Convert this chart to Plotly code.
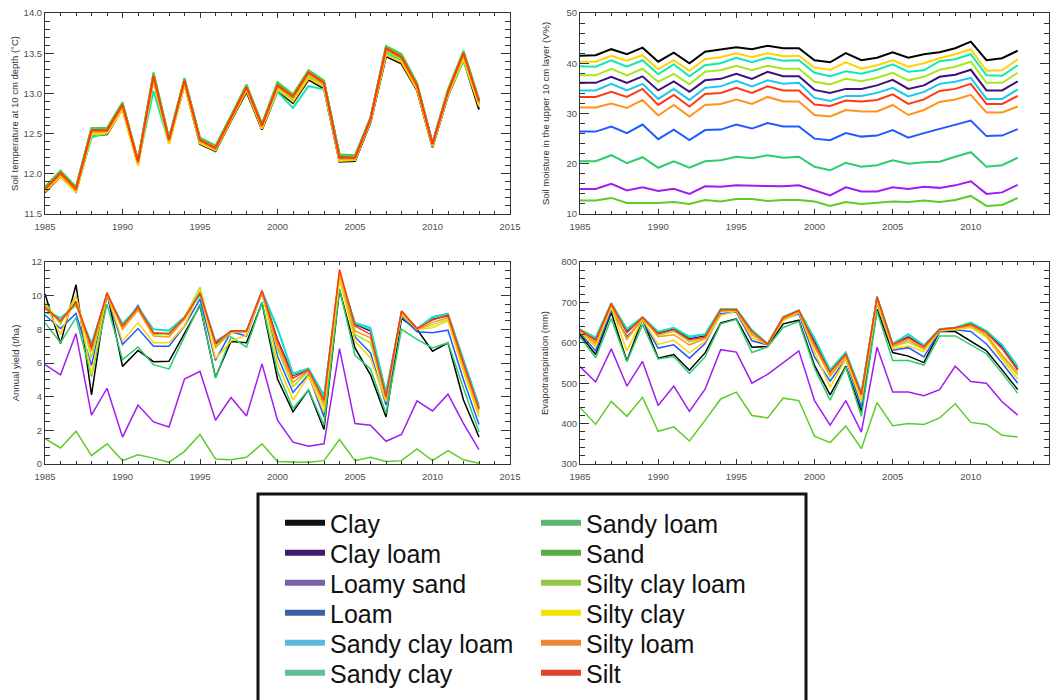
import plotly.graph_objects as go

years = list(range(1985, 2014))

soils = ["Clay", "Clay loam", "Loamy sand", "Loam", "Sandy clay loam", "Sandy clay",
         "Sandy loam", "Sand", "Silty clay loam", "Silty clay", "Silty loam", "Silt"]

# line colours used inside the panels
line_colors = ["#000000", "#3d1078", "#a21cf0", "#1f5cff", "#18c8f0", "#10e8b0",
               "#2ccc6a", "#5ccc28", "#a8e61e", "#ffd200", "#ff9419", "#ff3a10"]

# swatch colours used in the legend box
legend_colors = ["#111111", "#3f1d6b", "#7e5ea8", "#3c5fa6", "#5bb9df", "#62bf95",
                 "#5db66f", "#5aab40", "#94c84a", "#f5e000", "#ea8838", "#e0422b"]

# ---- soil temperature at 10 cm depth (deg C) ----
temp_clay = [11.77, 11.97, 11.78, 12.48, 12.49, 12.81, 12.12, 13.17, 12.39, 13.11, 12.37, 12.28, 12.66, 13.02, 12.55,
             13.03, 12.88, 13.17, 13.06, 12.15, 12.16, 12.64, 13.46, 13.37, 13.04, 12.33, 12.97, 13.42, 12.80]
temp_clay_loam = [11.80, 12.00, 11.80, 12.53, 12.53, 12.85, 12.15, 13.21, 12.41, 13.15, 12.41, 12.31, 12.70, 13.07, 12.59,
                  13.09, 12.95, 13.25, 13.12, 12.22, 12.21, 12.68, 13.54, 13.44, 13.09, 12.36, 13.01, 13.49, 12.89]
temp_loamy_sand = [11.82, 12.02, 11.82, 12.55, 12.55, 12.87, 12.16, 13.23, 12.43, 13.17, 12.43, 12.33, 12.71, 13.09, 12.61,
                   13.11, 12.97, 13.27, 13.14, 12.23, 12.21, 12.69, 13.57, 13.46, 13.11, 12.38, 13.03, 13.51, 12.91]
temp_loam = [11.81, 12.01, 11.81, 12.56, 12.55, 12.86, 12.15, 13.22, 12.42, 13.16, 12.42, 12.32, 12.70, 13.08, 12.60,
             13.10, 12.96, 13.26, 13.13, 12.21, 12.20, 12.68, 13.55, 13.46, 13.10, 12.37, 13.02, 13.50, 12.90]
temp_sandy_clay_loam = [11.79, 11.99, 11.79, 12.48, 12.52, 12.84, 12.14, 13.19, 12.40, 13.14, 12.40, 12.30, 12.69, 13.06, 12.58,
                        13.07, 12.92, 13.21, 13.10, 12.18, 12.19, 12.67, 13.52, 13.42, 13.08, 12.35, 13.00, 13.46, 12.87]
temp_sandy_clay = [11.79, 11.99, 11.79, 12.45, 12.51, 12.82, 12.13, 13.03, 12.38, 13.12, 12.39, 12.30, 12.68, 13.05, 12.58,
                   13.02, 12.82, 13.09, 13.05, 12.17, 12.18, 12.66, 13.50, 13.41, 13.07, 12.35, 12.99, 13.40, 12.86]
temp_sandy_loam = [11.84, 12.04, 11.84, 12.57, 12.57, 12.89, 12.17, 13.26, 12.45, 13.19, 12.45, 12.35, 12.72, 13.11, 12.62,
                   13.14, 12.99, 13.29, 13.16, 12.24, 12.23, 12.70, 13.59, 13.49, 13.13, 12.39, 13.05, 13.53, 12.93]
temp_sand = [11.83, 12.03, 11.83, 12.57, 12.56, 12.88, 12.17, 13.25, 12.44, 13.18, 12.44, 12.34, 12.72, 13.10, 12.62,
             13.13, 12.98, 13.28, 13.15, 12.23, 12.22, 12.70, 13.58, 13.48, 13.12, 12.38, 13.04, 13.52, 12.92]
temp_silty_clay_loam = [11.80, 12.00, 11.80, 12.51, 12.52, 12.85, 12.14, 13.20, 12.41, 13.15, 12.41, 12.31, 12.69, 13.07, 12.59,
                        13.08, 12.94, 13.23, 13.11, 12.19, 12.19, 12.67, 13.53, 13.43, 13.08, 12.36, 13.01, 13.47, 12.88]
temp_silty_clay = [11.78, 11.97, 11.77, 12.49, 12.50, 12.80, 12.10, 13.16, 12.37, 13.10, 12.38, 12.29, 12.67, 13.04, 12.56,
                   13.05, 12.90, 13.19, 13.08, 12.16, 12.17, 12.65, 13.48, 13.39, 13.05, 12.34, 12.98, 13.43, 12.84]
temp_silty_loam = [11.80, 12.00, 11.80, 12.53, 12.53, 12.85, 12.14, 13.21, 12.41, 13.15, 12.41, 12.31, 12.69, 13.07, 12.59,
                   13.09, 12.95, 13.25, 13.12, 12.19, 12.19, 12.67, 13.54, 13.44, 13.09, 12.36, 13.01, 13.49, 12.89]
temp_silt = [11.81, 12.01, 11.81, 12.54, 12.54, 12.86, 12.15, 13.22, 12.42, 13.16, 12.42, 12.32, 12.70, 13.08, 12.60,
             13.10, 12.96, 13.26, 13.13, 12.20, 12.20, 12.68, 13.56, 13.45, 13.10, 12.37, 13.02, 13.50, 12.90]

# ---- soil moisture in the upper 10 cm layer (V%) ----
moist_clay = [41.5, 41.6, 42.8, 41.8, 43.1, 40.3, 42.1, 40.0, 42.3, 42.8, 43.2, 42.8, 43.5, 43.0, 43.0,
              40.6, 40.2, 42.0, 40.6, 41.1, 42.2, 41.1, 41.8, 42.2, 43.0, 44.3, 40.6, 41.0, 42.5]
moist_clay_loam = [36.1, 36.1, 37.3, 36.1, 37.4, 34.6, 36.4, 34.3, 36.6, 36.9, 37.9, 36.9, 38.3, 37.4, 37.4,
                   34.7, 34.1, 34.9, 34.9, 35.6, 36.7, 34.9, 35.6, 37.3, 37.7, 38.7, 34.6, 34.6, 36.4]
moist_loamy_sand = [15.0, 15.0, 16.0, 14.7, 15.3, 14.6, 15.0, 14.0, 15.5, 15.4, 15.7, 15.6, 15.5, 15.5, 15.7,
                    14.7, 13.7, 15.3, 14.5, 14.5, 15.3, 15.0, 15.4, 15.2, 15.7, 16.5, 14.0, 14.3, 15.8]
moist_loam = [26.4, 26.4, 27.4, 26.1, 27.8, 24.9, 26.8, 24.7, 26.7, 26.8, 27.8, 27.0, 28.1, 27.4, 27.4,
              25.0, 24.7, 26.1, 25.4, 25.6, 26.7, 25.2, 26.1, 26.9, 27.7, 28.6, 25.5, 25.6, 26.9]
moist_sandy_clay_loam = [34.6, 34.6, 35.9, 34.6, 35.9, 32.9, 34.9, 32.7, 35.1, 35.4, 36.5, 35.4, 36.6, 35.9, 36.1,
                         33.1, 32.5, 33.5, 33.5, 34.1, 35.1, 33.4, 34.3, 35.9, 36.3, 37.1, 32.9, 32.9, 34.8]
moist_sandy_clay = [39.4, 39.3, 40.6, 39.3, 40.6, 37.8, 39.8, 37.4, 39.6, 40.0, 41.1, 40.2, 41.1, 40.5, 40.6,
                    38.1, 37.4, 38.4, 37.9, 38.7, 39.8, 38.3, 38.6, 40.4, 40.8, 41.8, 37.6, 37.5, 39.6]
moist_sandy_loam = [20.5, 20.5, 21.7, 20.1, 21.3, 19.2, 20.5, 19.2, 20.5, 20.7, 21.4, 21.1, 21.7, 21.2, 21.4,
                    19.4, 18.7, 20.2, 19.4, 19.7, 20.7, 20.0, 20.3, 20.4, 21.4, 22.3, 19.4, 19.7, 21.2]
moist_sand = [12.7, 12.7, 13.2, 12.2, 12.2, 12.2, 12.4, 12.0, 12.8, 12.5, 13.0, 13.0, 12.6, 12.8, 12.8,
              12.5, 11.6, 12.4, 12.0, 12.3, 12.5, 12.4, 12.7, 12.4, 12.8, 13.6, 11.6, 11.8, 13.2]
moist_silty_clay_loam = [37.6, 37.6, 38.9, 37.6, 38.9, 36.3, 37.9, 35.8, 38.3, 38.6, 39.5, 38.6, 39.5, 38.9, 38.9,
                         36.3, 35.8, 36.9, 36.4, 37.1, 38.1, 36.6, 37.3, 38.7, 39.3, 40.3, 36.1, 36.1, 38.1]
moist_silty_clay = [40.3, 40.3, 41.5, 40.5, 41.6, 38.8, 40.6, 38.5, 40.8, 41.2, 42.0, 41.2, 42.0, 41.4, 41.5,
                    39.1, 38.7, 40.2, 38.9, 39.6, 40.6, 39.3, 40.0, 41.0, 41.8, 42.8, 38.5, 38.6, 40.8]
moist_silty_loam = [31.2, 31.2, 32.0, 31.1, 32.7, 29.6, 31.7, 29.4, 31.7, 31.9, 32.8, 31.9, 33.3, 32.4, 32.4,
                    29.7, 29.4, 30.7, 30.4, 30.4, 31.7, 29.7, 30.7, 32.3, 32.8, 33.7, 30.2, 30.2, 31.4]
moist_silt = [33.3, 33.3, 34.3, 33.3, 34.9, 31.7, 33.7, 31.4, 33.9, 34.1, 35.1, 34.1, 35.4, 34.6, 34.6,
              31.8, 31.5, 32.6, 32.4, 32.7, 33.8, 31.9, 32.8, 34.5, 34.9, 35.9, 31.9, 31.9, 33.5]

# ---- annual yield (t/ha) ----
yield_clay = [10.1, 7.15, 10.65, 4.1, 10.2, 5.8, 6.75, 6.08, 6.1, 7.8, 9.42, 5.15, 7.28, 7.2, 9.58,
              5.05, 3.1, 4.4, 2.05, 10.35, 6.9, 5.3, 2.8, 8.65, 8.0, 6.7, 7.2, 3.8, 1.6]
yield_clay_loam = [9.4, 8.45, 9.65, 6.85, 10.15, 8.1, 9.4, 7.75, 7.7, 8.7, 10.1, 7.15, 7.9, 7.9, 10.25,
                   7.4, 5.25, 5.6, 3.7, 11.3, 8.3, 7.9, 4.1, 9.05, 8.05, 8.6, 8.8, 6.1, 3.3]
yield_loamy_sand = [5.9, 5.3, 7.75, 2.9, 4.5, 1.6, 3.5, 2.5, 2.2, 5.05, 5.5, 2.6, 3.95, 2.85, 5.95,
                    2.6, 1.3, 1.05, 1.2, 6.85, 2.4, 2.3, 1.35, 1.75, 3.75, 3.15, 4.15, 2.4, 0.85]
yield_loam = [8.85, 8.05, 8.95, 5.85, 10.0, 7.1, 8.05, 7.0, 7.0, 8.2, 9.8, 6.15, 7.85, 7.6, 10.2,
              6.4, 4.25, 5.3, 2.8, 11.2, 7.55, 6.6, 3.5, 8.75, 7.85, 7.8, 7.95, 5.0, 2.35]
yield_sandy_clay_loam = [9.2, 8.65, 9.5, 7.1, 10.1, 8.3, 9.35, 8.0, 7.95, 8.75, 10.2, 7.3, 7.85, 7.9, 10.3,
                         8.1, 5.4, 5.7, 4.1, 11.3, 8.4, 8.1, 4.3, 9.0, 8.05, 8.75, 8.95, 6.2, 3.5]
yield_sandy_clay = [9.0, 8.7, 9.4, 7.2, 10.0, 8.35, 9.3, 8.0, 7.9, 8.7, 10.0, 7.25, 7.8, 7.9, 10.15,
                    8.0, 5.3, 5.65, 4.0, 11.1, 8.35, 8.0, 4.2, 8.85, 8.0, 8.7, 8.9, 6.1, 3.4]
yield_sandy_loam = [8.4, 7.2, 8.7, 5.2, 9.5, 6.2, 6.95, 5.9, 5.65, 7.6, 9.5, 5.1, 7.55, 6.95, 9.6,
                    5.5, 3.3, 4.4, 2.3, 10.4, 6.45, 5.65, 3.0, 8.0, 7.4, 6.9, 7.2, 4.5, 1.9]
yield_sand = [1.5, 0.95, 1.95, 0.5, 1.2, 0.2, 0.55, 0.35, 0.1, 0.75, 1.75, 0.3, 0.25, 0.4, 1.2,
              0.15, 0.12, 0.1, 0.2, 1.45, 0.2, 0.4, 0.15, 0.2, 0.9, 0.2, 0.8, 0.25, 0.05]
yield_silty_clay_loam = [9.6, 8.3, 10.0, 6.3, 10.2, 8.1, 9.2, 7.7, 7.7, 8.7, 10.5, 6.9, 7.8, 7.85, 10.2,
                         6.8, 4.6, 5.5, 3.4, 11.2, 7.7, 7.2, 3.8, 8.95, 8.0, 8.25, 8.6, 5.7, 3.0]
yield_silty_clay = [9.5, 7.7, 10.0, 5.3, 10.1, 7.3, 8.4, 7.2, 7.2, 8.2, 10.3, 6.25, 7.3, 7.65, 10.25,
                    6.0, 3.8, 5.25, 3.1, 11.0, 7.3, 6.3, 3.7, 8.9, 8.0, 8.1, 8.5, 5.5, 2.8]
yield_silty_loam = [9.25, 8.45, 9.55, 6.7, 10.1, 8.0, 9.15, 7.6, 7.55, 8.6, 10.2, 7.0, 7.85, 7.85, 10.25,
                    7.0, 4.85, 5.55, 3.6, 11.4, 7.9, 7.5, 3.9, 9.0, 8.0, 8.4, 8.7, 5.8, 3.2]
yield_silt = [9.3, 8.5, 9.6, 7.0, 10.15, 8.2, 9.3, 7.8, 7.75, 8.7, 10.15, 7.2, 7.9, 7.9, 10.3,
              7.3, 5.1, 5.6, 3.8, 11.55, 8.2, 7.7, 4.0, 9.1, 8.05, 8.55, 8.85, 6.0, 3.3]

# ---- evapotranspiration (mm) ----
et_clay = [620, 571, 675, 555, 659, 562, 571, 532, 575, 649, 659, 589, 591, 647, 656,
           544, 471, 542, 430, 683, 576, 567, 551, 628, 628, 603, 580, 533, 484]
et_clay_loam = [630, 608, 695, 628, 662, 624, 634, 610, 617, 681, 681, 630, 597, 662, 679,
                603, 530, 573, 474, 712, 597, 615, 591, 633, 637, 647, 627, 590, 535]
et_loamy_sand = [541, 503, 585, 493, 554, 445, 493, 430, 485, 583, 577, 500, 522, 552, 580,
                 457, 396, 457, 379, 589, 478, 478, 469, 484, 542, 504, 500, 454, 421]
et_loam = [625, 580, 680, 615, 655, 587, 595, 562, 598, 672, 676, 605, 595, 658, 672,
           565, 505, 560, 440, 698, 582, 588, 565, 628, 632, 628, 597, 550, 500]
et_sandy_clay_loam = [634, 612, 698, 633, 664, 627, 637, 614, 621, 684, 684, 632, 598, 664, 680,
                      612, 534, 577, 478, 712, 598, 622, 594, 634, 638, 651, 629, 596, 542]
et_sandy_clay = [633, 614, 699, 635, 664, 628, 638, 616, 622, 684, 684, 631, 598, 664, 681,
                 610, 533, 576, 477, 715, 598, 620, 594, 634, 638, 650, 630, 594, 540]
et_sandy_loam = [615, 563, 660, 553, 645, 560, 566, 524, 565, 647, 658, 576, 590, 638, 653,
                 537, 458, 540, 418, 678, 556, 556, 545, 617, 617, 595, 573, 525, 475]
et_sand = [440, 398, 455, 418, 465, 381, 392, 357, 408, 461, 478, 420, 414, 463, 457,
           369, 353, 394, 338, 452, 395, 400, 398, 414, 449, 403, 398, 371, 367]
et_silty_clay_loam = [627, 596, 691, 608, 660, 618, 628, 602, 612, 680, 681, 624, 596, 661, 678,
                      592, 516, 566, 465, 705, 590, 602, 583, 632, 635, 640, 617, 565, 520]
et_silty_clay = [628, 590, 688, 580, 658, 596, 606, 575, 603, 668, 678, 612, 596, 655, 675,
                 578, 490, 560, 455, 700, 585, 592, 578, 630, 632, 638, 614, 560, 510]
et_silty_loam = [630, 600, 694, 610, 662, 615, 620, 595, 610, 678, 680, 620, 596, 660, 678,
                 590, 520, 568, 470, 708, 592, 607, 586, 632, 636, 643, 620, 570, 525]
et_silt = [632, 606, 697, 625, 663, 622, 632, 607, 614, 682, 682, 628, 597, 663, 680,
           598, 527, 572, 472, 714, 596, 612, 590, 633, 637, 646, 625, 585, 532]

temperature = [temp_clay, temp_clay_loam, temp_loamy_sand, temp_loam, temp_sandy_clay_loam, temp_sandy_clay,
               temp_sandy_loam, temp_sand, temp_silty_clay_loam, temp_silty_clay, temp_silty_loam, temp_silt]
moisture = [moist_clay, moist_clay_loam, moist_loamy_sand, moist_loam, moist_sandy_clay_loam, moist_sandy_clay,
            moist_sandy_loam, moist_sand, moist_silty_clay_loam, moist_silty_clay, moist_silty_loam, moist_silt]
annual_yield = [yield_clay, yield_clay_loam, yield_loamy_sand, yield_loam, yield_sandy_clay_loam, yield_sandy_clay,
                yield_sandy_loam, yield_sand, yield_silty_clay_loam, yield_silty_clay, yield_silty_loam, yield_silt]
evapo = [et_clay, et_clay_loam, et_loamy_sand, et_loam, et_sandy_clay_loam, et_sandy_clay,
         et_sandy_loam, et_sand, et_silty_clay_loam, et_silty_clay, et_silty_loam, et_silt]

W, H = 1058, 700


def px_x(a, b):
    return [a / W, b / W]


def px_y(top, bottom):
    return [1 - bottom / H, 1 - top / H]


fig = go.Figure()

panels = [
    # (data, xaxis id, yaxis id, line width)
    (temperature, "x", "y", 2.0),
    (moisture, "x2", "y2", 2.0),
    (annual_yield, "x3", "y3", 1.5),
    (evapo, "x4", "y4", 1.5),
]

for data, xa, ya, lw in panels:
    for name, color, values in zip(soils, line_colors, data):
        fig.add_trace(go.Scatter(x=years, y=values, mode="lines", name=name,
                                 line=dict(color=color, width=lw),
                                 xaxis=xa, yaxis=ya, showlegend=False, hoverinfo="skip"))

# one legend per entry so the two columns and row spacing can be placed freely
legend_font = dict(family="Liberation Sans, Arial, sans-serif", size=25, color="#111111")
legend_layouts = {}
for i, (name, color) in enumerate(zip(soils, legend_colors)):
    key = "legend" if i == 0 else f"legend{i + 1}"
    col, row = divmod(i, 6)
    fig.add_trace(go.Scatter(x=[None], y=[None], mode="lines", name=name,
                             line=dict(color=color, width=6),
                             legend=key, showlegend=True))
    legend_layouts[key] = dict(
        x=(280 if col == 0 else 536) / W, y=1 - (523 + 30 * row) / H,
        xanchor="left", yanchor="middle", font=legend_font, itemwidth=40,
        bgcolor="rgba(0,0,0,0)", borderwidth=0, itemclick=False, itemdoubleclick=False)

tick_font = dict(family="Liberation Sans, Arial, sans-serif", size=9.5, color="#505050")
title_font = dict(family="Liberation Sans, Arial, sans-serif", size=9.5, color="#333333")


def x_axis(domain, anchor):
    return dict(domain=domain, anchor=anchor, range=[1985, 2015], tick0=1985, dtick=5,
                ticks="inside", ticklen=5, tickwidth=1, tickcolor="#333333",
                minor=dict(dtick=1, ticks="inside", ticklen=3, tickcolor="#333333", showgrid=False),
                showline=True, linecolor="#333333", linewidth=1, mirror="ticks",
                showgrid=False, zeroline=False, tickfont=tick_font, ticklabelstandoff=4,
                fixedrange=True)


def y_axis(domain, anchor, rng, dtick, minor, title, fmt, standoff):
    return dict(domain=domain, anchor=anchor, range=rng, tick0=rng[0], dtick=dtick,
                ticks="inside", ticklen=9, tickwidth=1, tickcolor="#333333",
                minor=dict(dtick=minor, ticks="inside", ticklen=5, tickcolor="#333333", showgrid=False),
                showline=True, linecolor="#333333", linewidth=1, mirror="ticks",
                showgrid=False, zeroline=False, tickfont=tick_font, tickformat=fmt,
                title=dict(text=title, font=title_font, standoff=standoff), fixedrange=True)


left_x = px_x(45, 510)
right_x = px_x(580, 1049)
top_y = px_y(13, 214)
bottom_y = px_y(262, 464)

fig.update_layout(
    width=W, height=H,
    margin=dict(l=0, r=0, t=0, b=0, autoexpand=False),
    paper_bgcolor="white", plot_bgcolor="white",
    xaxis=x_axis(left_x, "y"),
    yaxis=y_axis(top_y, "x", [11.5, 14.0], 0.5, 0.1,
                 "Soil temperature at 10 cm depth (°C)", ".1f", 3),
    xaxis2=x_axis(right_x, "y2"),
    yaxis2=y_axis(top_y, "x2", [10, 50], 10, 2,
                  "Soil moisture in the upper 10 cm layer (V%)", "d", 15),
    xaxis3=x_axis(left_x, "y3"),
    yaxis3=y_axis(bottom_y, "x3", [0, 12], 2, 0.5, "Annual yield (t/ha)", "d", 10),
    xaxis4=x_axis(right_x, "y4"),
    yaxis4=y_axis(bottom_y, "x4", [300, 800], 100, 20, "Evapotranspiration (mm)", "d", 10),
    shapes=[dict(type="rect", xref="paper", yref="paper",
                 x0=258 / W, x1=806 / W, y0=-0.02, y1=1 - 494 / H,
                 line=dict(color="#111111", width=3), fillcolor="rgba(0,0,0,0)")],
    **legend_layouts,
)

fig.write_html("out.html")
